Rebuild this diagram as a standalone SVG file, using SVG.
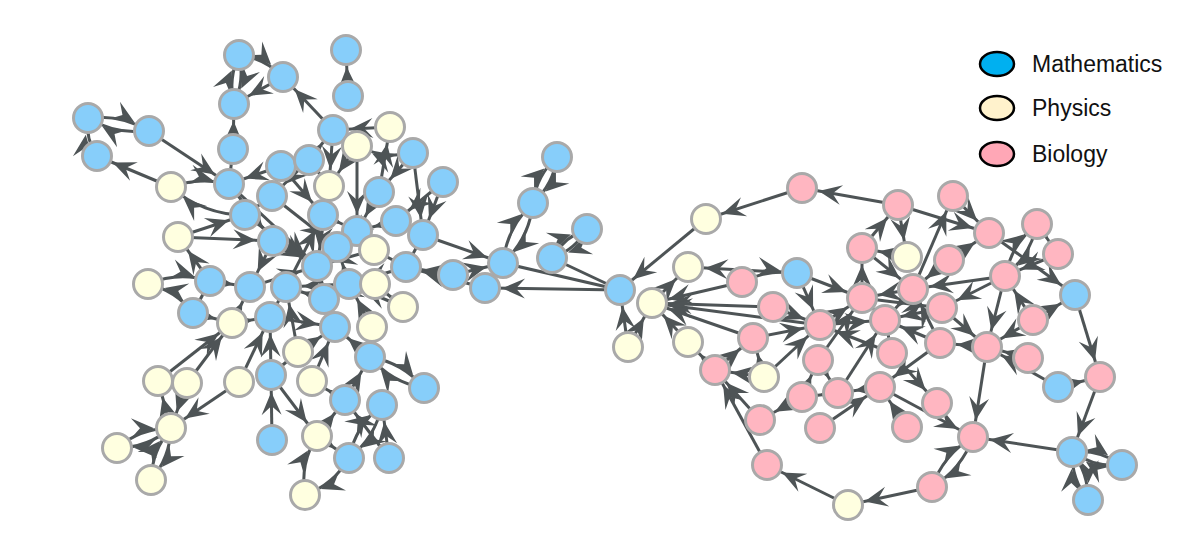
<svg xmlns="http://www.w3.org/2000/svg" width="1200" height="550" viewBox="0 0 1200 550">
<style>
.e line,.e path{stroke:#4e5456;stroke-width:3;fill:none;marker-end:url(#a)}
.e .n{marker-end:none}
circle{stroke:#a9a9a9;stroke-width:3}
.m circle{fill:#87cefa}
.p circle{fill:#ffffe0}
.b circle{fill:#ffb6c1}
.lg{font-family:"Liberation Sans",Arial,sans-serif;font-size:23px;fill:#111}
.le{stroke:#000;stroke-width:2.5}
</style>
<defs>
<marker id="a" markerUnits="userSpaceOnUse" orient="auto" viewBox="-44 -20 46 40" markerWidth="46" markerHeight="40" refX="0" refY="0">
<path d="M-17,0 L-40,-10 L-31,0 L-40,10 Z" fill="#4e5456"/>
</marker>
</defs>
<rect width="1200" height="550" fill="#fff"/>
<g id="connectors" class="e">
<line x1="171" y1="187" x2="97" y2="156"/>
<line x1="149" y1="131" x2="229" y2="184"/>
<line x1="283" y1="77" x2="234" y2="104"/>
<line x1="333" y1="130" x2="283" y2="77"/>
<line x1="348" y1="96" x2="346" y2="50"/>
<line x1="390" y1="127" x2="333" y2="130"/>
<line x1="413" y1="153" x2="423" y2="235"/>
<line x1="443" y1="182" x2="423" y2="235"/>
<line x1="357" y1="146" x2="357" y2="231"/>
<line x1="333" y1="130" x2="329" y2="186"/>
<line x1="233" y1="149" x2="234" y2="104"/>
<line x1="229" y1="184" x2="233" y2="149"/>
<line x1="178" y1="237" x2="245" y2="215"/>
<line x1="210" y1="281" x2="178" y2="237"/>
<line x1="158" y1="381" x2="232" y2="323"/>
<line x1="187" y1="383" x2="232" y2="323"/>
<line x1="239" y1="382" x2="171" y2="428"/>
<line x1="187" y1="383" x2="171" y2="428"/>
<line x1="171" y1="428" x2="158" y2="381"/>
<line x1="272" y1="440" x2="271" y2="375"/>
<line x1="271" y1="375" x2="317" y2="436"/>
<line x1="317" y1="436" x2="345" y2="400"/>
<line x1="389" y1="458" x2="345" y2="400"/>
<line x1="345" y1="400" x2="370" y2="357"/>
<line x1="312" y1="381" x2="335" y2="327"/>
<line x1="389" y1="458" x2="382" y2="405"/>
<line x1="317" y1="436" x2="349" y2="458"/>
<line x1="239" y1="382" x2="270" y2="317"/>
<line x1="271" y1="375" x2="270" y2="317"/>
<line x1="298" y1="352" x2="286" y2="287"/>
<line x1="193" y1="313" x2="210" y2="281"/>
<line x1="232" y1="323" x2="250" y2="287"/>
<line x1="210" y1="281" x2="250" y2="287"/>
<line x1="178" y1="237" x2="273" y2="241"/>
<line x1="229" y1="184" x2="317" y2="266"/>
<line x1="245" y1="215" x2="317" y2="266"/>
<line x1="273" y1="241" x2="317" y2="266"/>
<line x1="281" y1="166" x2="323" y2="215"/>
<line x1="309" y1="160" x2="272" y2="196"/>
<line x1="272" y1="196" x2="337" y2="247"/>
<line x1="329" y1="186" x2="317" y2="266"/>
<line x1="379" y1="192" x2="357" y2="231"/>
<line x1="396" y1="221" x2="357" y2="231"/>
<line x1="423" y1="235" x2="406" y2="267"/>
<line x1="453" y1="275" x2="406" y2="267"/>
<line x1="485" y1="288" x2="406" y2="267"/>
<line x1="406" y1="267" x2="349" y2="284"/>
<line x1="374" y1="250" x2="317" y2="266"/>
<line x1="349" y1="284" x2="286" y2="287"/>
<line x1="375" y1="284" x2="324" y2="299"/>
<line x1="403" y1="307" x2="349" y2="284"/>
<line x1="335" y1="327" x2="317" y2="266"/>
<line x1="372" y1="327" x2="349" y2="284"/>
<line x1="370" y1="357" x2="372" y2="327"/>
<line x1="324" y1="299" x2="286" y2="287"/>
<line x1="270" y1="317" x2="286" y2="287"/>
<line x1="250" y1="287" x2="317" y2="266"/>
<line x1="286" y1="287" x2="323" y2="215"/>
<line x1="323" y1="215" x2="357" y2="231"/>
<line x1="357" y1="231" x2="337" y2="247"/>
<line x1="273" y1="241" x2="250" y2="287"/>
<line x1="229" y1="184" x2="273" y2="241"/>
<line x1="281" y1="166" x2="229" y2="184"/>
<line x1="309" y1="160" x2="333" y2="130"/>
<line x1="379" y1="192" x2="390" y2="127"/>
<line x1="423" y1="235" x2="503" y2="263"/>
<line x1="232" y1="323" x2="270" y2="317"/>
<line x1="193" y1="313" x2="232" y2="323"/>
<line x1="270" y1="317" x2="335" y2="327"/>
<line x1="298" y1="352" x2="335" y2="327"/>
<line x1="345" y1="400" x2="312" y2="381"/>
<line x1="271" y1="375" x2="298" y2="352"/>
<line x1="443" y1="182" x2="396" y2="221"/>
<line x1="413" y1="153" x2="379" y2="192"/>
<line x1="245" y1="215" x2="272" y2="196"/>
<line x1="281" y1="166" x2="272" y2="196"/>
<line x1="309" y1="160" x2="329" y2="186"/>
<line x1="357" y1="146" x2="329" y2="186"/>
<line x1="403" y1="307" x2="375" y2="284"/>
<line x1="370" y1="357" x2="335" y2="327"/>
<line x1="324" y1="299" x2="317" y2="266"/>
<line x1="349" y1="284" x2="337" y2="247"/>
<line x1="406" y1="267" x2="374" y2="250"/>
<line x1="396" y1="221" x2="423" y2="235"/>
<path d="M88 118 A95 95 0 0 1 149 131"/>
<path d="M149 131 A95 95 0 0 1 88 118"/>
<path d="M97 156 A55 55 0 0 1 88 118"/>
<path d="M234 104 A75 75 0 0 1 239 55"/>
<path d="M239 55 A75 75 0 0 1 234 104"/>
<path d="M239 55 A75 75 0 0 1 283 77"/>
<path d="M413 153 A85 85 0 0 1 357 146"/>
<path d="M171 187 A100 100 0 0 1 229 184"/>
<path d="M245 215 A110 110 0 0 1 171 187"/>
<path d="M148 284 A90 90 0 0 1 210 281"/>
<path d="M193 313 A80 80 0 0 0 148 284"/>
<path d="M117 448 A85 85 0 0 1 171 428"/>
<path d="M171 428 A85 85 0 0 1 117 448"/>
<path d="M171 428 A85 85 0 0 1 151 480"/>
<path d="M151 480 A85 85 0 0 1 171 428"/>
<path d="M305 495 A85 85 0 0 1 317 436"/>
<path d="M349 458 A85 85 0 0 1 305 495"/>
<path d="M349 458 A90 90 0 0 1 382 405"/>
<path d="M382 405 A90 90 0 0 1 349 458"/>
<path d="M370 357 A90 90 0 0 1 424 388"/>
<path d="M424 388 A90 90 0 0 1 370 357"/>
<path d="M533 203 A75 75 0 0 1 557 157"/>
<path d="M557 157 A75 75 0 0 1 533 203"/>
<path d="M503 263 A95 95 0 0 1 533 203"/>
<path d="M533 203 A95 95 0 0 1 503 263"/>
<path d="M587 229 A65 65 0 0 1 552 258"/>
<path d="M552 258 A65 65 0 0 1 587 229"/>
<line x1="620" y1="290" x2="485" y2="288"/>
<line x1="453" y1="275" x2="503" y2="263"/>
<line x1="485" y1="288" x2="503" y2="263"/>
<line x1="706" y1="219" x2="620" y2="290"/>
<line x1="628" y1="347" x2="620" y2="290"/>
<line class="n" x1="503" y1="263" x2="620" y2="290"/>
<line class="n" x1="552" y1="258" x2="620" y2="290"/>
<line x1="898" y1="205" x2="802" y2="188"/>
<line x1="802" y1="188" x2="706" y2="219"/>
<line x1="742" y1="282" x2="652" y2="303"/>
<line x1="797" y1="273" x2="688" y2="267"/>
<line x1="797" y1="273" x2="862" y2="298"/>
<line x1="797" y1="273" x2="820" y2="325"/>
<line x1="773" y1="307" x2="652" y2="303"/>
<line x1="753" y1="338" x2="820" y2="325"/>
<line x1="862" y1="298" x2="862" y2="248"/>
<line x1="898" y1="205" x2="989" y2="233"/>
<line x1="953" y1="196" x2="989" y2="233"/>
<line x1="898" y1="205" x2="907" y2="257"/>
<line x1="862" y1="248" x2="898" y2="205"/>
<line x1="913" y1="289" x2="953" y2="196"/>
<line x1="1058" y1="254" x2="1005" y2="276"/>
<line x1="989" y1="233" x2="1075" y2="295"/>
<line x1="1005" y1="276" x2="913" y2="289"/>
<line x1="1005" y1="276" x2="942" y2="308"/>
<line x1="1005" y1="276" x2="987" y2="347"/>
<line x1="1033" y1="320" x2="1005" y2="276"/>
<line x1="949" y1="260" x2="989" y2="233"/>
<line x1="942" y1="308" x2="987" y2="347"/>
<line x1="1075" y1="295" x2="1100" y2="377"/>
<line x1="987" y1="347" x2="973" y2="437"/>
<line x1="1072" y1="452" x2="973" y2="437"/>
<line x1="932" y1="487" x2="848" y2="505"/>
<line x1="1100" y1="377" x2="1072" y2="452"/>
<line x1="1058" y1="387" x2="1100" y2="377"/>
<line x1="1058" y1="387" x2="987" y2="347"/>
<line x1="892" y1="353" x2="937" y2="403"/>
<line x1="907" y1="427" x2="880" y2="387"/>
<line x1="880" y1="387" x2="973" y2="437"/>
<line x1="848" y1="505" x2="767" y2="465"/>
<line x1="767" y1="465" x2="715" y2="370"/>
<line x1="760" y1="420" x2="715" y2="370"/>
<line x1="802" y1="397" x2="760" y2="420"/>
<line x1="820" y1="428" x2="880" y2="387"/>
<line x1="764" y1="377" x2="820" y2="325"/>
<line x1="764" y1="377" x2="715" y2="370"/>
<line x1="715" y1="370" x2="753" y2="338"/>
<line x1="715" y1="370" x2="688" y2="342"/>
<line x1="688" y1="342" x2="652" y2="303"/>
<line x1="820" y1="325" x2="862" y2="298"/>
<line x1="885" y1="320" x2="862" y2="298"/>
<line x1="913" y1="289" x2="885" y2="320"/>
<line x1="940" y1="343" x2="885" y2="320"/>
<line x1="892" y1="353" x2="885" y2="320"/>
<line x1="838" y1="393" x2="885" y2="320"/>
<line x1="818" y1="360" x2="862" y2="298"/>
<line x1="802" y1="397" x2="818" y2="360"/>
<line x1="942" y1="308" x2="885" y2="320"/>
<line x1="940" y1="343" x2="913" y2="289"/>
<line x1="987" y1="347" x2="940" y2="343"/>
<line x1="1033" y1="320" x2="987" y2="347"/>
<line x1="1028" y1="358" x2="987" y2="347"/>
<line x1="949" y1="260" x2="913" y2="289"/>
<line x1="907" y1="257" x2="862" y2="248"/>
<line x1="862" y1="248" x2="913" y2="289"/>
<line x1="838" y1="393" x2="802" y2="397"/>
<line x1="880" y1="387" x2="838" y2="393"/>
<line x1="818" y1="360" x2="838" y2="393"/>
<line x1="820" y1="325" x2="652" y2="303"/>
<line x1="753" y1="338" x2="652" y2="303"/>
<line x1="652" y1="303" x2="688" y2="267"/>
<line x1="628" y1="347" x2="652" y2="303"/>
<line x1="1037" y1="224" x2="1058" y2="254"/>
<line x1="1033" y1="320" x2="1075" y2="295"/>
<line x1="820" y1="325" x2="885" y2="320"/>
<line x1="862" y1="298" x2="942" y2="308"/>
<line x1="940" y1="343" x2="880" y2="387"/>
<line x1="913" y1="289" x2="862" y2="298"/>
<line x1="773" y1="307" x2="820" y2="325"/>
<line x1="892" y1="353" x2="820" y2="325"/>
<line x1="764" y1="377" x2="753" y2="338"/>
<path d="M742 282 A90 90 0 0 1 797 273"/>
<path d="M1005 276 A90 90 0 0 1 1037 224"/>
<path d="M1037 224 A90 90 0 0 1 1005 276"/>
<path d="M932 487 A95 95 0 0 1 973 437"/>
<path d="M973 437 A95 95 0 0 1 932 487"/>
<path d="M1072 452 A75 75 0 0 1 1122 465"/>
<path d="M1122 465 A75 75 0 0 1 1072 452"/>
<path d="M1088 500 A75 75 0 0 1 1072 452"/>
<path d="M1072 452 A75 75 0 0 1 1088 500"/>
</g>
<g id="n1" class="m"><circle cx="239" cy="55" r="14.5"/></g>
<g id="n2" class="m"><circle cx="283" cy="77" r="14.5"/></g>
<g id="n3" class="m"><circle cx="346" cy="50" r="14.5"/></g>
<g id="n4" class="m"><circle cx="234" cy="104" r="14.5"/></g>
<g id="n5" class="m"><circle cx="348" cy="96" r="14.5"/></g>
<g id="n6" class="p"><circle cx="390" cy="127" r="14.5"/></g>
<g id="n7" class="m"><circle cx="333" cy="130" r="14.5"/></g>
<g id="n8" class="p"><circle cx="357" cy="146" r="14.5"/></g>
<g id="n9" class="m"><circle cx="413" cy="153" r="14.5"/></g>
<g id="n10" class="m"><circle cx="88" cy="118" r="14.5"/></g>
<g id="n11" class="m"><circle cx="149" cy="131" r="14.5"/></g>
<g id="n12" class="m"><circle cx="97" cy="156" r="14.5"/></g>
<g id="n13" class="m"><circle cx="233" cy="149" r="14.5"/></g>
<g id="n14" class="m"><circle cx="281" cy="166" r="14.5"/></g>
<g id="n15" class="m"><circle cx="309" cy="160" r="14.5"/></g>
<g id="n16" class="p"><circle cx="171" cy="187" r="14.5"/></g>
<g id="n17" class="m"><circle cx="229" cy="184" r="14.5"/></g>
<g id="n18" class="m"><circle cx="272" cy="196" r="14.5"/></g>
<g id="n19" class="p"><circle cx="329" cy="186" r="14.5"/></g>
<g id="n20" class="m"><circle cx="379" cy="192" r="14.5"/></g>
<g id="n21" class="m"><circle cx="443" cy="182" r="14.5"/></g>
<g id="n22" class="m"><circle cx="245" cy="215" r="14.5"/></g>
<g id="n23" class="m"><circle cx="323" cy="215" r="14.5"/></g>
<g id="n24" class="m"><circle cx="396" cy="221" r="14.5"/></g>
<g id="n25" class="p"><circle cx="178" cy="237" r="14.5"/></g>
<g id="n26" class="m"><circle cx="273" cy="241" r="14.5"/></g>
<g id="n27" class="m"><circle cx="357" cy="231" r="14.5"/></g>
<g id="n28" class="m"><circle cx="423" cy="235" r="14.5"/></g>
<g id="n29" class="m"><circle cx="337" cy="247" r="14.5"/></g>
<g id="n30" class="p"><circle cx="374" cy="250" r="14.5"/></g>
<g id="n31" class="m"><circle cx="317" cy="266" r="14.5"/></g>
<g id="n32" class="m"><circle cx="406" cy="267" r="14.5"/></g>
<g id="n33" class="m"><circle cx="453" cy="275" r="14.5"/></g>
<g id="n34" class="m"><circle cx="485" cy="288" r="14.5"/></g>
<g id="n35" class="p"><circle cx="148" cy="284" r="14.5"/></g>
<g id="n36" class="m"><circle cx="210" cy="281" r="14.5"/></g>
<g id="n37" class="m"><circle cx="250" cy="287" r="14.5"/></g>
<g id="n38" class="m"><circle cx="286" cy="287" r="14.5"/></g>
<g id="n39" class="m"><circle cx="349" cy="284" r="14.5"/></g>
<g id="n40" class="p"><circle cx="375" cy="284" r="14.5"/></g>
<g id="n41" class="m"><circle cx="193" cy="313" r="14.5"/></g>
<g id="n42" class="p"><circle cx="232" cy="323" r="14.5"/></g>
<g id="n43" class="m"><circle cx="270" cy="317" r="14.5"/></g>
<g id="n44" class="m"><circle cx="324" cy="299" r="14.5"/></g>
<g id="n45" class="p"><circle cx="403" cy="307" r="14.5"/></g>
<g id="n46" class="m"><circle cx="335" cy="327" r="14.5"/></g>
<g id="n47" class="p"><circle cx="372" cy="327" r="14.5"/></g>
<g id="n48" class="p"><circle cx="298" cy="352" r="14.5"/></g>
<g id="n49" class="m"><circle cx="370" cy="357" r="14.5"/></g>
<g id="n50" class="p"><circle cx="158" cy="381" r="14.5"/></g>
<g id="n51" class="p"><circle cx="187" cy="383" r="14.5"/></g>
<g id="n52" class="p"><circle cx="239" cy="382" r="14.5"/></g>
<g id="n53" class="m"><circle cx="271" cy="375" r="14.5"/></g>
<g id="n54" class="p"><circle cx="312" cy="381" r="14.5"/></g>
<g id="n55" class="m"><circle cx="424" cy="388" r="14.5"/></g>
<g id="n56" class="m"><circle cx="345" cy="400" r="14.5"/></g>
<g id="n57" class="m"><circle cx="382" cy="405" r="14.5"/></g>
<g id="n58" class="p"><circle cx="171" cy="428" r="14.5"/></g>
<g id="n59" class="p"><circle cx="117" cy="448" r="14.5"/></g>
<g id="n60" class="m"><circle cx="272" cy="440" r="14.5"/></g>
<g id="n61" class="p"><circle cx="317" cy="436" r="14.5"/></g>
<g id="n62" class="m"><circle cx="349" cy="458" r="14.5"/></g>
<g id="n63" class="m"><circle cx="389" cy="458" r="14.5"/></g>
<g id="n64" class="p"><circle cx="151" cy="480" r="14.5"/></g>
<g id="n65" class="p"><circle cx="305" cy="495" r="14.5"/></g>
<g id="n66" class="m"><circle cx="557" cy="157" r="14.5"/></g>
<g id="n67" class="m"><circle cx="533" cy="203" r="14.5"/></g>
<g id="n68" class="m"><circle cx="587" cy="229" r="14.5"/></g>
<g id="n69" class="m"><circle cx="552" cy="258" r="14.5"/></g>
<g id="n70" class="m"><circle cx="503" cy="263" r="14.5"/></g>
<g id="n71" class="m"><circle cx="620" cy="290" r="14.5"/></g>
<g id="n72" class="p"><circle cx="652" cy="303" r="14.5"/></g>
<g id="n73" class="p"><circle cx="628" cy="347" r="14.5"/></g>
<g id="n74" class="p"><circle cx="688" cy="267" r="14.5"/></g>
<g id="n75" class="p"><circle cx="688" cy="342" r="14.5"/></g>
<g id="n76" class="p"><circle cx="706" cy="219" r="14.5"/></g>
<g id="n77" class="b"><circle cx="802" cy="188" r="14.5"/></g>
<g id="n78" class="b"><circle cx="898" cy="205" r="14.5"/></g>
<g id="n79" class="b"><circle cx="953" cy="196" r="14.5"/></g>
<g id="n80" class="b"><circle cx="989" cy="233" r="14.5"/></g>
<g id="n81" class="b"><circle cx="1037" cy="224" r="14.5"/></g>
<g id="n82" class="b"><circle cx="1058" cy="254" r="14.5"/></g>
<g id="n83" class="p"><circle cx="907" cy="257" r="14.5"/></g>
<g id="n84" class="b"><circle cx="949" cy="260" r="14.5"/></g>
<g id="n85" class="b"><circle cx="862" cy="248" r="14.5"/></g>
<g id="n86" class="b"><circle cx="1005" cy="276" r="14.5"/></g>
<g id="n87" class="m"><circle cx="1075" cy="295" r="14.5"/></g>
<g id="n88" class="b"><circle cx="742" cy="282" r="14.5"/></g>
<g id="n89" class="m"><circle cx="797" cy="273" r="14.5"/></g>
<g id="n90" class="b"><circle cx="773" cy="307" r="14.5"/></g>
<g id="n91" class="b"><circle cx="862" cy="298" r="14.5"/></g>
<g id="n92" class="b"><circle cx="913" cy="289" r="14.5"/></g>
<g id="n93" class="b"><circle cx="820" cy="325" r="14.5"/></g>
<g id="n94" class="b"><circle cx="942" cy="308" r="14.5"/></g>
<g id="n95" class="b"><circle cx="1033" cy="320" r="14.5"/></g>
<g id="n96" class="b"><circle cx="885" cy="320" r="14.5"/></g>
<g id="n97" class="b"><circle cx="753" cy="338" r="14.5"/></g>
<g id="n98" class="b"><circle cx="940" cy="343" r="14.5"/></g>
<g id="n99" class="b"><circle cx="987" cy="347" r="14.5"/></g>
<g id="n100" class="b"><circle cx="892" cy="353" r="14.5"/></g>
<g id="n101" class="b"><circle cx="1028" cy="358" r="14.5"/></g>
<g id="n102" class="b"><circle cx="715" cy="370" r="14.5"/></g>
<g id="n103" class="p"><circle cx="764" cy="377" r="14.5"/></g>
<g id="n104" class="b"><circle cx="818" cy="360" r="14.5"/></g>
<g id="n105" class="b"><circle cx="802" cy="397" r="14.5"/></g>
<g id="n106" class="b"><circle cx="838" cy="393" r="14.5"/></g>
<g id="n107" class="b"><circle cx="880" cy="387" r="14.5"/></g>
<g id="n108" class="m"><circle cx="1058" cy="387" r="14.5"/></g>
<g id="n109" class="b"><circle cx="1100" cy="377" r="14.5"/></g>
<g id="n110" class="b"><circle cx="937" cy="403" r="14.5"/></g>
<g id="n111" class="b"><circle cx="907" cy="427" r="14.5"/></g>
<g id="n112" class="b"><circle cx="973" cy="437" r="14.5"/></g>
<g id="n113" class="b"><circle cx="760" cy="420" r="14.5"/></g>
<g id="n114" class="b"><circle cx="820" cy="428" r="14.5"/></g>
<g id="n115" class="b"><circle cx="767" cy="465" r="14.5"/></g>
<g id="n116" class="p"><circle cx="848" cy="505" r="14.5"/></g>
<g id="n117" class="b"><circle cx="932" cy="487" r="14.5"/></g>
<g id="n118" class="m"><circle cx="1072" cy="452" r="14.5"/></g>
<g id="n119" class="m"><circle cx="1122" cy="465" r="14.5"/></g>
<g id="n120" class="m"><circle cx="1088" cy="500" r="14.5"/></g>
<g id="legend">
<ellipse class="le" cx="997" cy="64" rx="17" ry="12" fill="#00b0f0"/>
<text class="lg" x="1032" y="72">Mathematics</text>
<ellipse class="le" cx="997" cy="108" rx="17" ry="12" fill="#fff2cc"/>
<text class="lg" x="1032" y="116">Physics</text>
<ellipse class="le" cx="997" cy="154" rx="17" ry="12" fill="#ffa7b6"/>
<text class="lg" x="1032" y="162">Biology</text>
</g>
</svg>
